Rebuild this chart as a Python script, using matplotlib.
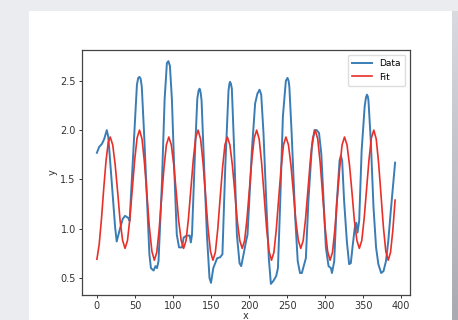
import matplotlib
matplotlib.use('Agg')
import matplotlib.pyplot as plt
import numpy as np
from matplotlib.patches import Rectangle

data_x = [0, 3, 6.6, 9.6, 13, 15, 20, 24, 26, 30.7, 34, 37, 41, 43,
          48, 52.6, 54.3, 56, 57.5, 59, 62, 66, 69, 71, 74.5, 77, 79, 81,
          85.4, 89, 92, 94, 96, 98.6, 101.6, 105, 108, 112, 114, 118, 122, 123.5, 125,
          129, 132, 133.6, 135, 136.4, 137.6, 141, 144.6, 148, 150, 153, 158, 162, 165,
          168.7, 173, 174.2, 175, 176.2, 177.4, 180.5, 184, 187.5, 189.7, 192.8, 196, 198,
          203.7, 208, 211, 213.8, 216, 219, 222.6, 226, 228.7, 232, 235.7, 238,
          241, 244.5, 248.4, 250.6, 252, 253, 256, 260.7, 264, 267, 269.4, 272.5, 274.7,
          278, 282.6, 286, 289, 292, 295, 298, 301, 304.5, 307.6, 309, 312,
          315, 319, 320.7, 322.4, 325, 328.6, 331.6, 333.8, 336, 339, 341, 342.6, 344.8,
          348, 352, 353.7, 355, 356.2, 357, 360, 363.6, 367, 370, 373.7, 376.8, 380, 383,
          386, 389.9, 392]
data_y = [1.77, 1.83, 1.86, 1.91, 2.00, 1.93, 1.42, 1.01, 0.87, 1.01, 1.10, 1.13, 1.11, 1.08,
          1.80, 2.46, 2.53, 2.54, 2.52, 2.44, 1.97, 1.28, 0.74, 0.60, 0.575, 0.62, 0.60, 0.67,
          1.45, 2.31, 2.68, 2.70, 2.65, 2.31, 1.62, 0.94, 0.81, 0.81, 0.91, 0.93, 0.93, 0.86, 0.94,
          1.79, 2.32, 2.40, 2.42, 2.38, 2.30, 1.62, 0.94, 0.50, 0.45, 0.60, 0.70, 0.71, 0.74,
          1.62, 2.40, 2.47, 2.49, 2.47, 2.42, 1.79, 0.94, 0.65, 0.62, 0.74, 0.87, 0.94,
          1.79, 2.27, 2.37, 2.41, 2.36, 1.97, 1.28, 0.70, 0.44, 0.47, 0.52, 0.60,
          1.28, 2.14, 2.50, 2.53, 2.50, 2.44, 1.97, 1.11, 0.67, 0.55, 0.55, 0.64, 0.70,
          1.28, 1.83, 2.00, 2.00, 1.97, 1.76, 1.28, 0.81, 0.62, 0.60, 0.55, 0.67,
          1.22, 1.69, 1.74, 1.69, 1.28, 0.87, 0.64, 0.65, 0.81, 1.01, 1.06, 0.96, 1.08,
          1.79, 2.24, 2.33, 2.36, 2.34, 2.30, 1.90, 1.22, 0.81, 0.64, 0.55, 0.57, 0.67, 0.87,
          1.15, 1.49, 1.67]

# red fitted curve
fit_x = [0, 3, 6, 9, 12, 15, 17.5,
         20.8, 24.0, 27.3, 30.5, 33.8, 37,
         40.2, 43.3, 46.5, 49.7, 52.8, 56,
         59.3, 62.5, 65.8, 69.0, 72.3, 75.5,
         78.7, 81.8, 85.0, 88.2, 91.3, 94.5,
         97.8, 101.0, 104.3, 107.5, 110.8, 114,
         117.2, 120.3, 123.5, 126.7, 129.8, 133,
         136.3, 139.5, 142.8, 146.0, 149.3, 152.5,
         155.7, 158.8, 162.0, 165.2, 168.3, 171.5,
         174.8, 178.0, 181.3, 184.5, 187.8, 191,
         194.2, 197.3, 200.5, 203.7, 206.8, 210,
         213.3, 216.5, 219.8, 223.0, 226.3, 229.5,
         232.7, 235.8, 239.0, 242.2, 245.3, 248.5,
         251.8, 255.0, 258.3, 261.5, 264.8, 268,
         271.2, 274.3, 277.5, 280.7, 283.8, 287,
         290.3, 293.5, 296.8, 300.0, 303.3, 306.5,
         309.7, 312.8, 316.0, 319.2, 322.3, 325.5,
         328.8, 332.0, 335.3, 338.5, 341.8, 345,
         348.2, 351.3, 354.5, 357.7, 360.8, 364,
         367.2, 370.3, 373.5, 376.7, 379.8, 383,
         386, 389, 392]
fit_y = [0.69, 0.84, 1.10, 1.41, 1.69, 1.88, 1.93,
         1.85, 1.65, 1.37, 1.08, 0.88, 0.80,
         0.88, 1.10, 1.40, 1.70, 1.92, 2.00,
         1.91, 1.67, 1.34, 1.01, 0.77, 0.68,
         0.76, 0.99, 1.31, 1.62, 1.85, 1.93,
         1.85, 1.65, 1.37, 1.08, 0.88, 0.80,
         0.88, 1.10, 1.40, 1.70, 1.92, 2.00,
         1.91, 1.67, 1.34, 1.01, 0.77, 0.68,
         0.76, 0.99, 1.31, 1.62, 1.85, 1.93,
         1.85, 1.65, 1.37, 1.08, 0.88, 0.80,
         0.88, 1.10, 1.40, 1.70, 1.92, 2.00,
         1.91, 1.67, 1.34, 1.01, 0.77, 0.68,
         0.76, 0.99, 1.31, 1.62, 1.85, 1.93,
         1.85, 1.65, 1.37, 1.08, 0.88, 0.80,
         0.88, 1.10, 1.40, 1.70, 1.92, 2.00,
         1.91, 1.67, 1.34, 1.01, 0.77, 0.68,
         0.76, 0.99, 1.31, 1.62, 1.85, 1.93,
         1.85, 1.65, 1.37, 1.08, 0.88, 0.80,
         0.88, 1.10, 1.40, 1.70, 1.92, 2.00,
         1.91, 1.67, 1.34, 1.01, 0.77, 0.68,
         0.76, 0.98, 1.29]

x_ticks = [0, 50, 100, 150, 200, 250, 300, 350, 400]
y_ticks = [0.5, 1.0, 1.5, 2.0, 2.5]

fig = plt.figure(figsize=(4.58, 3.2), dpi=100)
fig.patch.set_facecolor('#ebecf0')

# white card with a shaded strip on its right
fig.patches.append(Rectangle((29 / 458, 0), (452 - 29) / 458, 1 - 11 / 320,
                             transform=fig.transFigure, facecolor='white',
                             edgecolor='none', zorder=-5))
sax = fig.add_axes([452 / 458, 0, 6 / 458, 1 - 11 / 320])
sax.imshow(np.linspace(0, 1, 50).reshape(-1, 1), aspect='auto',
           cmap=matplotlib.colors.LinearSegmentedColormap.from_list(
               'shade', ['#d9dadf', '#a9abb1']))
sax.set_axis_off()

ax = fig.add_axes([82 / 458, 1 - 295 / 320, (410 - 82) / 458, (295 - 50) / 320])
ax.plot(data_x, data_y, color='#3a7db5', lw=1.4, label='Data')
ax.plot(fit_x, fit_y, color='#e8302a', lw=1.2, label='Fit')

ax.set_xticks(x_ticks)
ax.set_yticks(y_ticks)
ax.tick_params(labelsize=7, length=2.5, width=0.7, colors='#333333', pad=2)
for s in ax.spines.values():
    s.set_color('#444444')
    s.set_linewidth(0.9)
ax.set_xlabel('x', fontsize=7, labelpad=0, color='#333333')
ax.set_ylabel('y', fontsize=7, labelpad=2, color='#333333')
ax.legend(loc='upper right', fontsize=6.5, handlelength=2.2, framealpha=1,
          edgecolor='#dddddd', borderpad=0.5)

fig.savefig('out.png', dpi=100, facecolor=fig.get_facecolor())
